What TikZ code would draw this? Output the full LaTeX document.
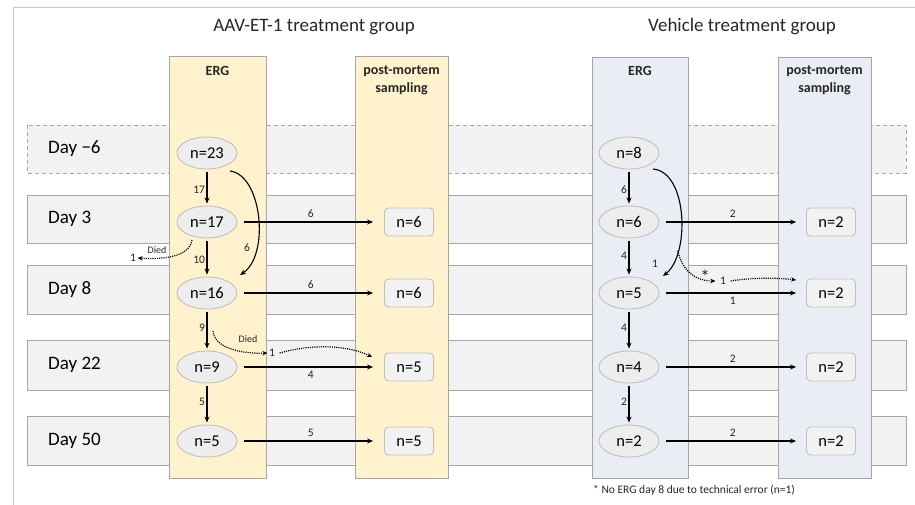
\documentclass[tikz,border=0pt]{standalone}
\usepackage{fontspec}
\setmainfont{Carlito}
\usetikzlibrary{arrows.meta,shapes.geometric,calc}
\definecolor{rowfill}{HTML}{F2F2F2}
\definecolor{rowline}{HTML}{A6A6A6}
\definecolor{yel}{HTML}{FFF2CC}
\definecolor{blu}{HTML}{EAEEF4}
\definecolor{ellfill}{HTML}{EDEDED}
\definecolor{ellline}{HTML}{BFBFBF}
\definecolor{txt}{HTML}{262626}
\definecolor{frameline}{HTML}{C8C8C8}
\begin{document}
\begin{tikzpicture}[x=1pt,y=-1pt,
  rowbox/.style={draw=rowline, fill=rowfill, line width=0.9pt},
  colbox/.style={draw=rowline, line width=0.9pt},
  daylab/.style={anchor=west, font=\fontsize{19}{22}\selectfont, inner sep=0pt},
  title/.style={font=\fontsize{19}{22}\selectfont, text=txt},
  head/.style={font=\bfseries\fontsize{14}{18}\selectfont, text=txt, align=center},
  ell/.style={ellipse, draw=ellline, fill=ellfill, minimum width=60pt, minimum height=32pt, inner sep=0pt, line width=0.9pt, font=\fontsize{16.5}{18}\selectfont},
  pmbox/.style={rectangle, rounded corners=4pt, draw=ellline, fill=rowfill, minimum width=49pt, minimum height=28pt, inner sep=0pt, line width=0.9pt, font=\fontsize{16.5}{18}\selectfont},
  arr/.style={-{Stealth[length=6pt,width=5pt]}, line width=1.1pt, black},
  dotarr/.style={-{Stealth[length=5pt,width=4.5pt]}, line width=1.2pt, black, dash pattern=on 1.1pt off 1.1pt},
  lab/.style={font=\fontsize{11.5}{12}\selectfont, text=txt, inner sep=1.5pt},
  note/.style={font=\fontsize{11.5}{12}\selectfont, text=txt, inner sep=0pt}
]
\useasboundingbox (0,0) rectangle (915,505);
% frame
\draw[frameline, line width=0.8pt] (13,505) -- (13,7) -- (915,7);
% rows
\draw[rowbox, dashed, dash pattern=on 4pt off 3pt] (27,125) rectangle (906,173);
\draw[rowbox] (27,195) rectangle (906,243);
\draw[rowbox] (27,265) rectangle (906,314);
\draw[rowbox] (27,340) rectangle (906,390);
\draw[rowbox] (27,416) rectangle (906,465);
\node[daylab] (dm6) at (48,149) {Day −6};
\node[daylab] (d3) at (48,219) {Day 3};
\node[daylab] (d8) at (48,289.5) {Day 8};
\node[daylab] (d22) at (48,365) {Day 22};
\node[daylab] (d50) at (48,440.5) {Day 50};
% columns
\draw[colbox, fill=yel] (169,56) rectangle (266,478);
\draw[colbox, fill=yel] (355,56) rectangle (448,478);
\draw[colbox, fill=blu] (592,57) rectangle (688,478);
\draw[colbox, fill=blu] (778,57) rectangle (871,478);
% titles
\node[title] (t1) at (314,27) {AAV-ET-1 treatment group};
\node[title] (t2) at (742,27) {Vehicle treatment group};
\node[head] (h1) at (217.5,71) {ERG};
\node[head] (h2) at (401.5,80) {post-mortem\\sampling};
\node[head] (h3) at (640,71) {ERG};
\node[head] (h4) at (824.5,80) {post-mortem\\sampling};
% AAV ERG
\node[ell] (a23) at (207,153) {n=23};
\node[ell] (a17) at (207,222) {n=17};
\node[ell] (a16) at (207,293) {n=16};
\node[ell] (a9) at (207,367) {n=9};
\node[ell] (a5) at (207,441) {n=5};
% AAV PM
\node[pmbox] (p3) at (409,222) {n=6};
\node[pmbox] (p8) at (409,293) {n=6};
\node[pmbox] (p22) at (409,367) {n=5};
\node[pmbox] (p50) at (409,441) {n=5};
% Vehicle ERG
\node[ell] (v8) at (629,153) {n=8};
\node[ell] (v6) at (629,222) {n=6};
\node[ell] (v5) at (629,293) {n=5};
\node[ell] (v4) at (629,367) {n=4};
\node[ell] (v2) at (629,441) {n=2};
% Vehicle PM
\node[pmbox] (q3) at (831,222) {n=2};
\node[pmbox] (q8) at (831,293) {n=2};
\node[pmbox] (q22) at (831,367) {n=2};
\node[pmbox] (q50) at (831,441) {n=2};
% AAV vertical arrows
\draw[arr, shorten <=3pt, shorten >=2pt] (a23) -- node[lab, left, pos=0.55] {17} (a17);
\draw[arr, shorten <=3pt, shorten >=2pt] (a17) -- node[lab, left, pos=0.55] {10} (a16);
\draw[arr, shorten <=3pt, shorten >=2pt] (a16) -- node[lab, left, pos=0.45] {9} (a9);
\draw[arr, shorten <=3pt, shorten >=2pt] (a9) -- node[lab, left, pos=0.45] {5} (a5);
% AAV horizontal arrows
\draw[arr, shorten <=7pt, shorten >=11pt] (a17.east) -- node[lab, above=2pt] {6} (p3.west);
\draw[arr, shorten <=7pt, shorten >=11pt] (a16.east) -- node[lab, above=2pt] {6} (p8.west);
\draw[arr, shorten <=7pt, shorten >=11pt] (a9.east) -- node[lab, below=2pt] {4} (p22.west);
\draw[arr, shorten <=7pt, shorten >=11pt] (a5.east) -- node[lab, above=2pt] {5} (p50.west);
% AAV curved arrow 23 -> 16
\draw[arr] ($(a23)+(23,18)$) .. controls ($(a23)+(55,22)$) and ($(a16)+(63,-38)$) .. ($(a16)+(33,-18)$);
\node[lab] (l6) at (247,248) {6};
% AAV died 1
\node[lab] (x1) at (133,258) {1};
\node[lab, font=\fontsize{10}{11}\selectfont] (died1) at (157,250) {Died};
\draw[dotarr] ($(a17)+(-15,18)$) .. controls ($(a17)+(-17,33)$) and ($(x1)+(35,2)$) .. (x1.east);
% AAV died 2
\node[lab] (x2) at (272,353) {1};
\node[lab, font=\fontsize{10}{11}\selectfont] (died2) at (248,339) {Died};
\draw[dotarr] ($(a16)+(6,38)$) .. controls ($(a16)+(7,55)$) and ($(x2)+(-30,1)$) .. (x2.west);
\draw[dotarr] ([xshift=3pt]x2.east) .. controls (315,343) and (350,346) .. ([shift={(-12pt,10pt)}]p22.west);
% Vehicle vertical arrows
\draw[arr, shorten <=3pt, shorten >=2pt] (v8) -- node[lab, left, pos=0.55] {6} (v6);
\draw[arr, shorten <=3pt, shorten >=2pt] (v6) -- node[lab, left, pos=0.45] {4} (v5);
\draw[arr, shorten <=3pt, shorten >=2pt] (v5) -- node[lab, left, pos=0.45] {4} (v4);
\draw[arr, shorten <=3pt, shorten >=2pt] (v4) -- node[lab, left, pos=0.45] {2} (v2);
% Vehicle horizontal arrows
\draw[arr, shorten <=6.5pt, shorten >=10pt] (v6.east) -- node[lab, above=2pt] {2} (q3.west);
\draw[arr, shorten <=6.5pt, shorten >=10pt] (v5.east) -- node[lab, below=2pt] {1} (q8.west);
\draw[arr, shorten <=6.5pt, shorten >=10pt] (v4.east) -- node[lab, above=2pt] {2} (q22.west);
\draw[arr, shorten <=6.5pt, shorten >=10pt] (v2.east) -- node[lab, above=2pt] {2} (q50.west);
% Vehicle curved arrow 8 -> 5
\draw[arr] ($(v8)+(24,16)$) .. controls ($(v8)+(59,19)$) and ($(v5)+(61,-38)$) .. coordinate[pos=0.75] (vc) ($(v5)+(34,-17)$);
\node[lab] (l1) at (655,264) {1};
% Vehicle dotted
\node[lab] (y1) at (723,281) {1};
\node[lab, font=\fontsize{19}{19}\selectfont, inner sep=0pt] (star) at (705,277) {*};
\draw[dotarr] (vc) .. controls (682,270) and (695,281) .. ([xshift=-3pt]y1.west);
\draw[dotarr] ([xshift=3pt]y1.east) .. controls (755,277) and (780,278) .. ([shift={(-10pt,13pt)}]q8.west);
% footnote
\node[note, anchor=west] (fn) at (593,490) {* No ERG day 8 due to technical error (n=1)};
\end{tikzpicture}
\end{document}
